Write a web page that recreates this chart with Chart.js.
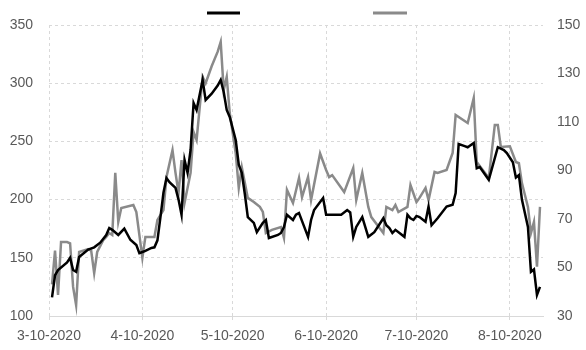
<!DOCTYPE html>
<html>
<head>
<meta charset="utf-8">
<script src="https://cdn.jsdelivr.net/npm/chart.js@4.4.1/dist/chart.umd.min.js"></script>
<style>
html,body{margin:0;padding:0;background:#fff;}
#wrap{width:586px;height:350px;}
</style>
</head>
<body>
<div id="wrap"><canvas id="c" width="586" height="350"></canvas></div>
<script>
// ---- data ----
const blackDates = ["3/11","3/12","3/13","3/16","3/17","3/18","3/19","3/20","3/23","3/25","3/27","3/29","3/30","3/31",
 "4/2","4/4","4/6","4/8","4/9","4/10","4/11","4/13","4/14","4/15","4/16","4/17","4/18","4/19","4/21","4/22","4/23","4/24","4/25","4/26","4/27","4/28","4/30",
 "5/1","5/3","5/5","5/6","5/7","5/8","5/9","5/11","5/12","5/13","5/14","5/15","5/17","5/18","5/20","5/21","5/22","5/25","5/26","5/27","5/28","5/30","5/31",
 "6/1","6/4","6/5","6/6","6/9","6/10","6/15","6/17","6/18","6/19","6/20","6/22","6/24","6/26","6/29","6/30",
 "7/1","7/2","7/3","7/6","7/7","7/8","7/9","7/10","7/11","7/13","7/14","7/15","7/17","7/20","7/22","7/23","7/24","7/26","7/27","7/29","7/30","7/31",
 "8/3","8/6","8/8","8/9","8/11","8/12","8/13","8/14","8/16","8/17","8/18","8/19","8/20"];
const blackValues = [116,135,139.5,146,150,139.5,138,150.7,157,159,163,169.6,175.6,174,
 169.6,175,165.5,161,154,155,156,158.5,159,165,185,206,218.6,215,210,200,187,234,223,242.6,283,277,302.8,
 285.6,291,298,302.8,292.5,277,271,251,230,223,205,185,180,172,180,182.5,167,169.6,171.3,176.5,187,182.5,187,
 188.5,168,182.5,191,201.4,187,187,191,189,168,176.5,185,168,172,184,178,
 175.6,171.3,174,168,187,184,182.5,186,185,181,194,178,184,194,195.6,205.7,247.8,246,245,248.6,227,228,
 217,245,242.6,240,232,219,221,200,176.5,138,140,118,125];

const grayDates = ["3/11","3/12","3/13","3/14","3/16","3/17","3/18","3/19","3/20","3/23","3/24","3/25","3/26","3/28","3/29","3/30","3/31",
 "4/1","4/2","4/3","4/7","4/8","4/10","4/11","4/13","4/14","4/15","4/17","4/18","4/20","4/21","4/22","4/23","4/24","4/26","4/27","4/28","4/30",
 "5/1","5/3","5/5","5/6","5/7","5/8","5/9","5/11","5/12","5/13","5/15","5/17","5/19","5/20","5/21","5/23","5/26","5/27","5/28","5/30",
 "6/1","6/2","6/4","6/5","6/8","6/10","6/11","6/12","6/16","6/19","6/20","6/22","6/24","6/25","6/29","6/30",
 "7/2","7/3","7/4","7/7","7/8","7/10","7/11","7/13","7/14","7/16","7/17","7/20","7/22","7/23","7/27","7/29","7/30",
 "8/3","8/5","8/6","8/7","8/10","8/12","8/13","8/14","8/16","8/17","8/18","8/19","8/20"];
const grayValues = [43,57,38.7,60.5,60.5,60,42,34.5,56.4,57.6,57,47.7,56.4,61.3,62.6,64.2,63.4,
 89,68.8,74.5,75.8,72.9,54,62.6,62.6,62.6,69.6,73.7,87.3,98.4,89,80.7,94.3,76.6,89,105.9,102.6,128.6,
 126,133,139,143,123.2,128.6,113.7,97,82.8,91.4,78.7,77,75,72.9,64.2,65.5,66.7,62.2,82,76.6,
 86.9,79,87.3,77.8,97,90.2,87.3,88.1,81.1,91,77.8,89,75,70.8,64.2,75,
 73.7,75.8,72.9,75,84,77,78.7,82.8,77.8,89.4,89,90.2,97.2,112.9,109.6,119.9,93.5,
 86.9,108.8,108.8,99.7,100,93.5,93,84.8,75,64.2,68.8,50.3,75];

const xTickLabels = ["3-10-2020","4-10-2020","5-10-2020","6-10-2020","7-10-2020","8-10-2020"];
const leftTicks = [100,150,200,250,300,350];
const rightTicks = [30,50,70,90,110,130,150];
const axisEnd = "8/21";

// ---- helpers ----
const DAY = 86400000;
const ORIGIN = Date.UTC(2020, 2, 10);
function offsetMD(s){ const [m,d] = s.split('/').map(Number); return (Date.UTC(2020, m-1, d) - ORIGIN)/DAY; }
function offsetLabel(s){ const [m,d,y] = s.split('-').map(Number); return (Date.UTC(y, m-1, d) - ORIGIN)/DAY; }
const xTickValues = xTickLabels.map(offsetLabel);

const blackData = blackDates.map((d,i)=>({x:offsetMD(d), y:blackValues[i]}));
const grayData = grayDates.map((d,i)=>({x:offsetMD(d), y:grayValues[i]}));

const gridColor = '#d9d9d9';
const labelColor = '#595959';
const font = {family:'"Liberation Sans", Arial, sans-serif', size:14};

const legendLines = {
  id:'legendLines',
  afterDraw(chart){
    const ctx = chart.ctx;
    const ca = chart.chartArea;
    const cx = (ca.left + ca.right)/2;
    const items = [[-89,-56],[77,111]];
    ctx.save();
    chart.data.datasets.forEach((ds,i)=>{
      ctx.strokeStyle = ds.borderColor;
      ctx.lineWidth = 3;
      ctx.beginPath();
      ctx.moveTo(cx+items[i][0], 13);
      ctx.lineTo(cx+items[i][1], 13);
      ctx.stroke();
    });
    ctx.restore();
  }
};

new Chart(document.getElementById('c'), {
  type:'line',
  data:{
    datasets:[
      {label:'', data:blackData, yAxisID:'yL', borderColor:'#000000', borderWidth:2.5, pointRadius:0, tension:0, fill:false},
      {label:'', data:grayData, yAxisID:'yR', borderColor:'#8a8a8a', borderWidth:2.5, pointRadius:0, tension:0, fill:false}
    ]
  },
  options:{
    responsive:false,
    animation:false,
    layout:{padding:{top:25, left:0, right:0, bottom:0}},
    plugins:{legend:{display:false}, tooltip:{enabled:false}},
    scales:{
      x:{
        type:'linear', min:0, max:offsetMD(axisEnd),
        afterBuildTicks(s){ s.ticks = xTickValues.map(v=>({value:v})); },
        afterFit(s){ s.height = 34; },
        ticks:{color:labelColor, font, padding:8, maxRotation:0, autoSkip:false,
          callback(v){ const i = xTickValues.indexOf(v); return i>=0 ? xTickLabels[i] : ''; }},
        grid:{color:gridColor, tickLength:4, drawTicks:true, tickBorderDash:[0]},
        border:{color:gridColor, dash:[3,3]}
      },
      yL:{
        position:'left', min:100, max:350,
        afterBuildTicks(s){ s.ticks = leftTicks.map(v=>({value:v})); },
        afterFit(s){ s.width = 49; },
        ticks:{color:labelColor, font, padding:16},
        grid:{color:gridColor, drawTicks:false},
        border:{display:false, dash:[3,3]}
      },
      yR:{
        position:'right', min:30, max:150,
        afterBuildTicks(s){ s.ticks = rightTicks.map(v=>({value:v})); },
        afterFit(s){ s.width = 43; },
        ticks:{color:labelColor, font, padding:14},
        grid:{display:false, drawTicks:false},
        border:{display:false}
      }
    }
  },
  plugins:[legendLines]
});
// dashed gridlines
Chart.defaults.borderColor = gridColor;
</script>
</body>
</html>
